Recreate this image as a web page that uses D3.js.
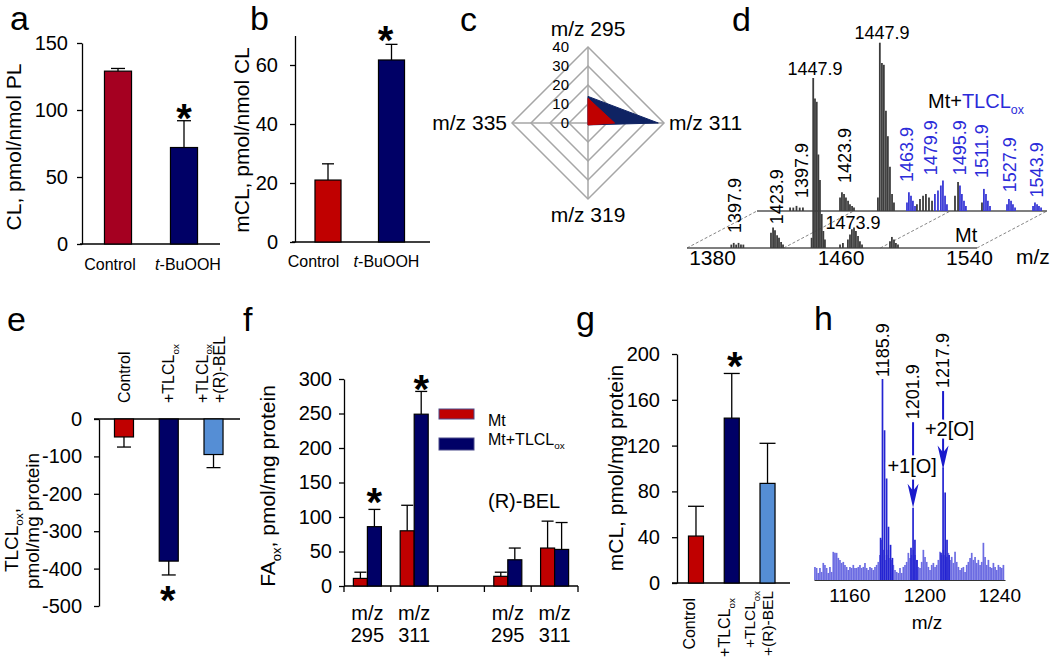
<!DOCTYPE html>
<html><head><meta charset="utf-8">
<script src="https://cdn.jsdelivr.net/npm/d3@7"></script>
<style>
body{margin:0;background:#fff;}
svg{display:block;}
</style></head><body>
<svg id="chart" width="1050" height="659"></svg>
<script>
// ================= DATA =================
// a
const aCats = ["Control", "t-BuOOH"];
const aVals = [129, 72];
const aErrs = [2, 20];
const aTicks = [0, 50, 100, 150];
// b
const bCats = ["Control", "t-BuOOH"];
const bVals = [21, 61.7];
const bErrs = [5.5, 5.3];
const bTicks = [0, 20, 40, 60];
// c (radar)
const cAxes = ["m/z 295", "m/z 311", "m/z 319", "m/z 335"];
const cMt = [13, 14, 1, 0];
const cMtTL = [14, 37, 1, 0];
const cTicks = [0, 10, 20, 30, 40];
// d (spectra, relative intensity %)
const dTicks = [1380, 1460, 1540];
const dMtPeaks = [[1392,2],[1393.5,3],[1395,2],[1396.5,3],[1398,2],[1399.5,2],
  [1416.7,9],[1418.0,12],[1419.2,10.5],[1420.5,7.5],[1421.7,6],[1423.0,3.5],[1424.2,2],
  [1442.0,6],[1443.0,100],[1444.1,88],[1445.2,86],[1446.2,55],[1447.2,40],[1448.3,20],[1449.3,10],[1450.3,5],
  [1459.7,2],[1461.5,3],
  [1464.6,5],[1465.9,8],[1467.1,11],[1468.4,12],[1469.6,10],[1470.9,7],[1472.1,4],[1473.4,2],
  [1490.8,4],[1492.0,6.5],[1493.3,5],[1494.5,3],[1495.8,2]];
const dTLGrayPeaks = [[1385,2],[1387,2],[1389,3],[1391,2],[1393,2],
  [1416.1,8],[1417.3,11],[1418.6,10],[1419.8,8],[1421.1,6],[1422.3,4],[1423.6,3],[1424.8,2],
  [1439.7,8],[1440.9,99],[1442.2,87],[1443.4,86],[1444.7,59],[1445.9,44],[1447.2,26],[1448.5,10],[1449.7,5],
  [1464.0,4],[1465.9,7],[1467.8,9],[1469.6,10],[1471.5,8],[1473.4,6],
  [1487.7,9],[1489.6,17],[1504.5,5]];
const dTLBluePeaks = [[1457.8,5],[1459.0,11],[1460.3,9],[1461.5,6],[1462.8,3],
  [1475.2,10],[1477.1,12],[1478.9,15],[1480.2,18],[1481.5,9],[1482.7,4],
  [1490.8,15],[1492.0,10],[1493.3,6],[1494.5,3],
  [1505.7,13],[1507.0,10],[1508.2,6],[1509.5,3],
  [1520.1,4],[1521.3,7],[1522.6,6],[1523.8,4],[1525.1,2],
  [1536.3,3],[1537.5,5],[1538.8,4],[1540.0,3],[1541.3,2]];
const dMtLabels = ["1397.9", "1423.9", "1447.9", "1473.9"];
const dMtLabelPos = [[1394.3, 8.8], [1420.4, 14], [1444.1, 102], [1467.8, 11]];
const dMtLabelRot = [true, true, false, false];
const dTLLabels = ["1397.9", "1423.9", "1447.9"];
const dTLLabelPos = [[1392.4, 7.6], [1419.2, 16.5], [1442.2, 101]];
const dTLLabelRot = [true, true, false];
const dTLBlueLabels = ["1463.9", "1479.9", "1495.9", "1511.9", "1527.9", "1543.9"];
const dTLBlueLabelPos = [[1457.8, 17], [1472.7, 21], [1490.8, 21], [1504.5, 19.4], [1521.9, 11], [1538.7, 8]];
// e
const eCats = ["Control", "+TLCL_{ox}", "+TLCL_{ox}|+(R)-BEL"];
const eVals = [-48, -380, -95];
const eErrs = [-27, -37, -35];
const eTicks = [0, -100, -200, -300, -400, -500];
// f
const fGroups = ["295", "311", "", "295", "311"];
const fSeries = ["Mt", "Mt+TLCL_{ox}"];
const fMt = [11, 80, null, 14, 55];
const fMtErr = [9, 37, null, 6, 39];
const fTL = [86, 249, null, 38, 53];
const fTLErr = [25, 33, null, 17, 39];
const fTicks = [0, 50, 100, 150, 200, 250, 300];
// g
const gCats = ["Control", "+TLCL_{ox}", "+TLCL_{ox}|+(R)-BEL"];
const gVals = [41, 144, 87];
const gErrs = [26, 39, 35];
const gTicks = [0, 40, 80, 120, 160, 200];
// h (spectrum, counts)
const hTicks = [1160, 1200, 1240];
const hNoiseStart = 1141.7, hNoiseStep = 0.889;
const hNoise = [13,12,7,12,8,17,15,12,7,13,8,28,27,27,22,20,17,18,15,13,10,13,12,15,12,12,13,15,12,13,17,12,10,13,12,10,13,15,18,25,
  40,30,20,25,30,22,20,15,10,8,7,12,7,13,15,18,27,22,25,30,25,20,13,12,18,30,23,18,13,10,15,17,13,15,20,28,25,30,25,23,
  27,20,23,17,28,18,13,10,12,13,8,15,18,22,27,20,23,17,20,15,18,37,23,15,20,13,12,17,13,10,15,13,12,15];
const hPeaks = [[1176.7,42],[1177.7,200],[1178.8,149],[1179.9,101],[1180.9,53],[1182.0,35],[1183.0,22],
  [1192.9,32],[1194.0,72],[1195.0,40],[1196.1,20],
  [1208.9,27],[1210.0,112],[1211.1,87],[1212.1,40],[1213.2,25]];
const hLabels = ["1185.9", "1201.9", "1217.9"];
const hLabelPos = [[1177.7, 202], [1194.0, 160], [1210.0, 191]];
const hArrows = [[1194.0, 157, 72], [1210.0, 188, 110]];
const hArrowText = ["+1[O]", "+2[O]"];
const hArrowTextPos = [[1193.5, 106], [1213.5, 143]];

// ================= DRAWING =================
const FONT = "'Liberation Sans', Arial, Helvetica, sans-serif";
const svg = d3.select("#chart").attr("font-family", FONT);
const RED = "#C00000", NAVY = "#000066", LBLUE = "#558ED5";

function rich(t, str, size) {
  const parts = str.split(/(_\{[^}]*\})/).filter(s => s.length);
  let sub = false;
  parts.forEach(p => {
    if (p.startsWith("_{")) {
      t.append("tspan").attr("font-size", size * 0.62).attr("dy", size * 0.28).text(p.slice(2, -1));
      sub = true;
    } else {
      const ts = t.append("tspan").text(p);
      if (sub) { ts.attr("dy", -size * 0.28); sub = false; }
    }
  });
  return t;
}
function txt(parent, x, y, str, size, o = {}) {
  const t = parent.append("text").attr("font-size", size).attr("fill", o.fill || "#000")
    .attr("text-anchor", o.anchor || "start");
  if (o.rotate !== undefined) t.attr("transform", `translate(${x},${y}) rotate(${o.rotate})`);
  else t.attr("x", x).attr("y", y);
  if (o.dy) t.attr("dy", o.dy);
  if (o.weight) t.attr("font-weight", o.weight);
  if (o.halo) t.attr("stroke", "#fff").attr("stroke-width", 5).attr("paint-order", "stroke");
  rich(t, str, size);
  return t;
}
function star(x, cy) { txt(svg, x, cy + 24, "*", 40, { anchor: "middle", weight: "bold" }); }

function yAxis(g, y, x, ticks, pad) {
  const ax = g.append("g").attr("transform", `translate(${x},0)`)
    .call(d3.axisLeft(y).tickValues(ticks).tickSize(5).tickSizeOuter(0).tickPadding(pad).tickFormat(d => String(d)));
  ax.selectAll("text").attr("font-size", 20).attr("fill", "#000").attr("font-family", FONT);
  ax.selectAll("line,path").attr("stroke", "#000").attr("stroke-width", 1.3);
  return ax;
}

function barChart(o) {
  const g = svg.append("g");
  const y = d3.scaleLinear().domain(o.yDomain).range(o.yRange);
  const x = d3.scaleBand().domain(o.cats).range(o.xRange).paddingInner(o.pad).paddingOuter(o.pad / 2);
  g.append("line").attr("x1", o.base[0]).attr("x2", o.base[1]).attr("y1", y(0)).attr("y2", y(0))
    .attr("stroke", "#000").attr("stroke-width", 1.3);
  yAxis(g, y, o.axisX, o.ticks, o.tickPad);
  o.cats.forEach((c, i) => {
    const v = o.vals[i], e = o.errs[i], x0 = x(c), w = x.bandwidth(), cx = x0 + w / 2;
    g.append("line").attr("x1", cx).attr("x2", cx).attr("y1", y(v)).attr("y2", y(v + e)).attr("stroke", "#000").attr("stroke-width", 1.3);
    g.append("line").attr("x1", cx - o.cap / 2).attr("x2", cx + o.cap / 2).attr("y1", y(v + e)).attr("y2", y(v + e)).attr("stroke", "#000").attr("stroke-width", 1.3);
    g.append("rect").attr("x", x0).attr("width", w).attr("y", Math.min(y(v), y(0))).attr("height", Math.abs(y(v) - y(0)))
      .attr("fill", o.colors[i]).attr("stroke", "#000").attr("stroke-width", 1.2);
  });
  return { x, y, g };
}

// panel letters
[["a", 10, 30], ["b", 250, 30], ["c", 460, 31], ["d", 732, 31], ["e", 7, 331], ["f", 243, 331], ["g", 576, 330], ["h", 814, 330]]
  .forEach(([t, x, y]) => txt(svg, x, y, t, 34));

// ---------- a ----------
{
  const p = barChart({ cats: aCats, vals: aVals, errs: aErrs, colors: ["#A50021", NAVY], yDomain: [0, 150], yRange: [244, 43],
    xRange: [85, 217], pad: 0.59, axisX: 82, ticks: aTicks, tickPad: 9, base: [80, 220], cap: 14 });
  const shifts = [-8, 4];
  aCats.forEach((c, i) => {
    const cx = p.x(c) + p.x.bandwidth() / 2 + shifts[i];
    const t = svg.append("text").attr("x", cx).attr("y", 270).attr("font-size", 16).attr("text-anchor", "middle");
    if (c.startsWith("t-")) { t.append("tspan").attr("font-style", "italic").text("t"); t.append("tspan").text(c.slice(1)); }
    else t.text(c);
  });
  txt(svg, 14, 147, "CL, pmol/nmol PL", 21, { rotate: -90, anchor: "middle", dy: "0.35em" });
  star(p.x(aCats[1]) + p.x.bandwidth() / 2, 108);
}
// ---------- b ----------
{
  const p = barChart({ cats: bCats, vals: bVals, errs: bErrs, colors: [RED, NAVY], yDomain: [0, 70], yRange: [242, 35.5],
    xRange: [296.25, 423.25], pad: 0.59, axisX: 295, ticks: bTicks, tickPad: 12, base: [292, 430], cap: 12 });
  const shifts = [-14.5, -5];
  bCats.forEach((c, i) => {
    const cx = p.x(c) + p.x.bandwidth() / 2 + shifts[i];
    const t = svg.append("text").attr("x", cx).attr("y", 267).attr("font-size", 16).attr("text-anchor", "middle");
    if (c.startsWith("t-")) { t.append("tspan").attr("font-style", "italic").text("t"); t.append("tspan").text(c.slice(1)); }
    else t.text(c);
  });
  txt(svg, 242, 140, "mCL, pmol/nmol CL", 21, { rotate: -90, anchor: "middle", dy: "0.35em" });
  star(p.x(bCats[1]) + p.x.bandwidth() / 2 - 6, 30);
}
// ---------- c (radar) ----------
{
  const cx = 588, cy = 123;
  const r = d3.scaleLinear().domain([0, 40]).range([0, 76]);
  const g = svg.append("g").attr("transform", `translate(${cx},${cy})`);
  const ang = i => i * Math.PI / 2;
  const radial = d3.lineRadial().angle((d, i) => ang(i)).radius(d => r(d)).curve(d3.curveLinearClosed);
  cTicks.filter(v => v > 0).forEach(v => {
    g.append("path").attr("d", radial(cAxes.map(() => v))).attr("fill", "none").attr("stroke", "#A6A6A6").attr("stroke-width", 1.5);
  });
  cAxes.forEach((a, i) => {
    g.append("line").attr("x1", 0).attr("y1", 0).attr("x2", r(40) * Math.sin(ang(i))).attr("y2", -r(40) * Math.cos(ang(i)))
      .attr("stroke", "#A6A6A6").attr("stroke-width", 1.5);
  });
  g.append("path").attr("d", radial(cMtTL)).attr("fill", "#0F2363").attr("stroke", "#0F2363").attr("stroke-width", 1);
  g.append("path").attr("d", radial(cMt)).attr("fill", RED).attr("stroke", RED).attr("stroke-width", 1);
  cTicks.forEach(v => txt(svg, 569, cy - r(v), String(v), 15, { anchor: "end", dy: "0.35em" }));
  txt(svg, cx, 36, cAxes[0], 21, { anchor: "middle" });
  txt(svg, cx + r(40) + 5, cy + 7, cAxes[1], 21);
  txt(svg, cx, 222, cAxes[2], 21, { anchor: "middle" });
  txt(svg, cx - r(40) - 5, cy + 7, cAxes[3], 21, { anchor: "end" });
}
// ---------- d (3D spectra) ----------
{
  const x = d3.scaleLinear().domain([1364.4, 1545]).range([687, 977]);
  const y = d3.scaleLinear().domain([0, 100]).range([0, 170]);
  const base = 248, off = [70, -37];
  const GRAY = "#3C3C3C", BLUE = "#3A3AD6", TBLUE = "#2B2BD9";
  const g = svg.append("g");
  const [r0, r1] = x.range();
  [0, 1, 2, 3].forEach(k => {
    const xx = r0 + k * (r1 - r0) / 3;
    g.append("line").attr("x1", xx).attr("y1", base).attr("x2", xx + off[0]).attr("y2", base + off[1])
      .attr("stroke", "#777").attr("stroke-dasharray", "3,2").attr("stroke-width", 0.9);
  });
  // back spectrum
  const bb = base + off[1];
  g.append("line").attr("x1", r0 + off[0]).attr("x2", r1 + off[0]).attr("y1", bb).attr("y2", bb).attr("stroke", "#555").attr("stroke-width", 1.6);
  dTLGrayPeaks.forEach(([m, v]) => g.append("line").attr("x1", x(m) + off[0]).attr("x2", x(m) + off[0]).attr("y1", bb).attr("y2", bb - y(v)).attr("stroke", GRAY).attr("stroke-width", 1.8));
  dTLBluePeaks.forEach(([m, v]) => g.append("line").attr("x1", x(m) + off[0]).attr("x2", x(m) + off[0]).attr("y1", bb).attr("y2", bb - y(v)).attr("stroke", BLUE).attr("stroke-width", 1.8));
  dTLLabels.forEach((t, i) => {
    const [m, v] = dTLLabelPos[i];
    if (dTLLabelRot[i]) txt(g, x(m) + off[0], bb - y(v), t, 18, { rotate: -90, dy: "0.35em" });
    else txt(g, x(m) + off[0], bb - y(v), t, 18, { anchor: "middle" });
  });
  dTLBlueLabels.forEach((t, i) => {
    const [m, v] = dTLBlueLabelPos[i];
    txt(g, x(m) + off[0], bb - y(v), t, 18, { rotate: -90, dy: "0.35em", fill: TBLUE });
  });
  // front spectrum
  g.append("line").attr("x1", r0).attr("x2", r1).attr("y1", base).attr("y2", base).attr("stroke", "#555").attr("stroke-width", 1.6);
  dMtPeaks.forEach(([m, v]) => g.append("line").attr("x1", x(m)).attr("x2", x(m)).attr("y1", base).attr("y2", base - y(v)).attr("stroke", GRAY).attr("stroke-width", 1.8));
  dMtLabels.forEach((t, i) => {
    const [m, v] = dMtLabelPos[i];
    if (dMtLabelRot[i]) txt(g, x(m), base - y(v), t, 18, { rotate: -90, dy: "0.35em" });
    else txt(g, x(m), base - y(v), t, 18, { anchor: "middle" });
  });
  txt(g, 955, 242, "Mt", 20);
  const t = g.append("text").attr("x", 928).attr("y", 108).attr("font-size", 20);
  t.append("tspan").text("Mt+");
  rich(t.append("tspan").attr("fill", TBLUE), "TLCL_{ox}", 20);
  const ax = g.append("g").attr("transform", `translate(0,${base})`).call(d3.axisBottom(x).tickValues(dTicks).tickSize(0).tickPadding(2).tickFormat(d => String(d)));
  ax.select(".domain").remove();
  ax.selectAll("text").attr("font-size", 21).attr("fill", "#000").attr("font-family", FONT);
  txt(g, 1016, 264, "m/z", 21);
}
// ---------- e ----------
{
  const p = barChart({ cats: eCats, vals: eVals, errs: eErrs, colors: [RED, NAVY, LBLUE], yDomain: [-500, 0], yRange: [606, 419],
    xRange: [101.6, 235.9], pad: 0.575, axisX: 99, ticks: eTicks, tickPad: 12, base: [94, 240], cap: 14 });
  eCats.forEach((c, i) => {
    const lines = c.split("|");
    const cx = p.x(c) + p.x.bandwidth() / 2 + (lines.length > 1 ? -3 : 0);
    lines.forEach((l, j) => {
      const lx = cx + (j - (lines.length - 1) / 2) * 17;
      txt(svg, lx, 403, l, 16, { rotate: -90, dy: "0.35em" });
    });
  });
  txt(svg, 11, 540, "TLCL_{ox},", 19, { rotate: -90, anchor: "middle", dy: "0.35em" });
  txt(svg, 32, 521, "pmol/mg protein", 19, { rotate: -90, anchor: "middle", dy: "0.35em" });
  star(p.x(eCats[1]) + p.x.bandwidth() / 2 - 1, 590);
}
// ---------- f ----------
{
  const g = svg.append("g");
  const y = d3.scaleLinear().domain([0, 300]).range([586, 379]);
  const x = d3.scaleBand().domain(fGroups.map((d, i) => i)).range([344, 578]).padding(0);
  const xs = d3.scaleBand().domain(fSeries).range([0, x.bandwidth()]).paddingInner(0).paddingOuter(0.67);
  g.append("line").attr("x1", 344).attr("x2", x.range()[1]).attr("y1", y(0)).attr("y2", y(0)).attr("stroke", "#000").attr("stroke-width", 1.3);
  fGroups.forEach((d, i) => {
    const xb = x(i) + x.bandwidth();
    g.append("line").attr("x1", xb).attr("x2", xb).attr("y1", y(0)).attr("y2", y(0) + 6).attr("stroke", "#000").attr("stroke-width", 1.3);
  });
  g.append("line").attr("x1", 344).attr("x2", 344).attr("y1", y(0)).attr("y2", y(0) + 6).attr("stroke", "#000").attr("stroke-width", 1.3);
  yAxis(g, y, 344, fTicks, 7);
  const series = [[fMt, fMtErr, RED], [fTL, fTLErr, NAVY]];
  fGroups.forEach((grp, i) => {
    series.forEach(([vals, errs, col], s) => {
      const v = vals[i]; if (v == null) return;
      const e = errs[i], x0 = x(i) + xs(fSeries[s]), w = xs.bandwidth(), cx = x0 + w / 2;
      g.append("line").attr("x1", cx).attr("x2", cx).attr("y1", y(v)).attr("y2", y(v + e)).attr("stroke", "#000").attr("stroke-width", 1.3);
      g.append("line").attr("x1", cx - 6).attr("x2", cx + 6).attr("y1", y(v + e)).attr("y2", y(v + e)).attr("stroke", "#000").attr("stroke-width", 1.3);
      g.append("rect").attr("x", x0).attr("width", w).attr("y", y(v)).attr("height", y(0) - y(v)).attr("fill", col).attr("stroke", "#000").attr("stroke-width", 1.2);
    });
    if (grp) {
      const cx = x(i) + x.bandwidth() / 2;
      txt(g, cx, 620, "m/z", 20, { anchor: "middle" });
      txt(g, cx, 642, grp, 20, { anchor: "middle" });
    }
  });
  // legend
  g.append("rect").attr("x", 439).attr("y", 409).attr("width", 35).attr("height", 10).attr("fill", RED).attr("stroke", "#4A4A8A");
  g.append("rect").attr("x", 439).attr("y", 438).attr("width", 35).attr("height", 12).attr("fill", NAVY).attr("stroke", "#4A4A8A");
  txt(g, 488, 426, fSeries[0], 16);
  txt(g, 488, 445, fSeries[1], 16);
  txt(g, 488, 508, "(R)-BEL", 20);
  txt(svg, 268, 486, "FA_{ox}, pmol/mg protein", 21, { rotate: -90, anchor: "middle", dy: "0.35em" });
  star(x(0) + xs(fSeries[1]) + xs.bandwidth() / 2, 492);
  star(x(1) + xs(fSeries[1]) + xs.bandwidth() / 2, 379);
}
// ---------- g ----------
{
  const p = barChart({ cats: gCats, vals: gVals, errs: gErrs, colors: [RED, NAVY, LBLUE], yDomain: [0, 200], yRange: [583, 354],
    xRange: [678.1, 785.4], pad: 0.58, axisX: 677, ticks: gTicks, tickPad: 12, base: [672, 790], cap: 16 });
  gCats.forEach((c, i) => {
    const lines = c.split("|");
    const multi = lines.length > 1;
    const cx = p.x(c) + p.x.bandwidth() / 2 + (multi ? -8.5 : -7);
    lines.forEach((l, j) => {
      const lx = cx + (j - (lines.length - 1) / 2) * 18;
      txt(svg, lx, multi ? 591 : 598, l, multi ? 15.5 : 16, { rotate: -90, anchor: "end", dy: "0.35em" });
    });
  });
  txt(svg, 616, 468, "mCL, pmol/mg protein", 21, { rotate: -90, anchor: "middle", dy: "0.35em" });
  star(p.x(gCats[1]) + p.x.bandwidth() / 2 + 3, 356);
}
// ---------- h ----------
{
  const g = svg.append("g");
  const x = d3.scaleLinear().domain([1141.2, 1243]).range([814, 1005]);
  const y = d3.scaleLinear().domain([0, 200]).range([580, 379]);
  hNoise.forEach((v, i) => {
    const xx = x(hNoiseStart + i * hNoiseStep);
    g.append("line").attr("x1", xx).attr("x2", xx).attr("y1", y(0)).attr("y2", y(v)).attr("stroke", "#6C6CE2").attr("stroke-width", 1.7);
  });
  hPeaks.forEach(([m, v]) => g.append("line").attr("x1", x(m)).attr("x2", x(m)).attr("y1", y(0)).attr("y2", y(v)).attr("stroke", "#2424D2").attr("stroke-width", 1.7));
  hArrows.forEach(([m, v0, v1]) => {
    const xx = x(m);
    g.append("line").attr("x1", xx).attr("x2", xx).attr("y1", y(v0)).attr("y2", y(v1) - 8).attr("stroke", "#1A1ACC").attr("stroke-width", 2);
    const tip = y(v1);
    g.append("path").attr("d", `M${xx},${tip} L${xx - 5.5},${tip - 24} L${xx},${tip - 17} L${xx + 5.5},${tip - 24} Z`).attr("fill", "#1A1ACC");
  });
  hArrowText.forEach((t, i) => txt(g, x(hArrowTextPos[i][0]), y(hArrowTextPos[i][1]), t, 20, { anchor: "middle", halo: true }));
  hLabels.forEach((t, i) => txt(g, x(hLabelPos[i][0]), y(hLabelPos[i][1]), t, 18, { rotate: -90, dy: "0.35em" }));
  const ax = g.append("g").attr("transform", `translate(0,${y(0)})`).call(d3.axisBottom(x).tickValues(hTicks).tickSize(0).tickPadding(9).tickFormat(d => String(d)));
  ax.select(".domain").attr("stroke", "#333").attr("stroke-width", 1.2);
  ax.selectAll("text").attr("font-size", 19).attr("fill", "#000").attr("font-family", FONT);
  txt(g, 927, 629, "m/z", 19, { anchor: "middle" });
}
</script>
</body></html>
